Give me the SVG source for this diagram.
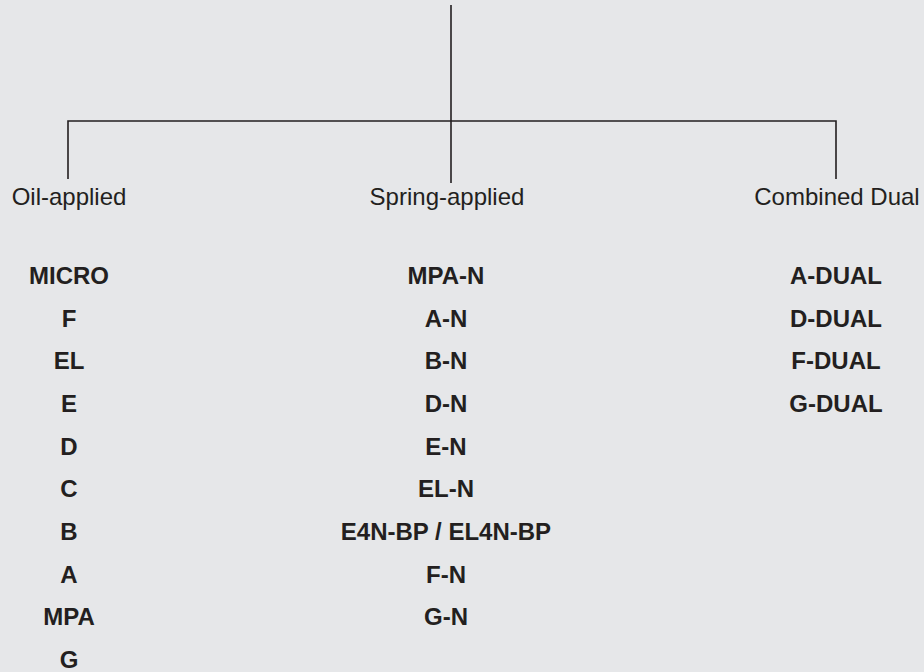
<svg xmlns="http://www.w3.org/2000/svg" width="924" height="672" viewBox="0 0 924 672">
<style>
.bg{fill:#e6e7e9}
.ln{stroke:#231f20;stroke-width:1.6;fill:none}
.hd{font-family:"Liberation Sans",Arial,sans-serif;font-size:24px;fill:#231f20;text-anchor:middle}
.it{font-family:"Liberation Sans",Arial,sans-serif;font-size:24px;font-weight:700;fill:#231f20;text-anchor:middle}
</style>
<rect class="bg" x="0" y="0" width="924" height="672"/>
<g id="connectors">
<line class="ln" x1="451" y1="5" x2="451" y2="183"/>
<polyline class="ln" points="68,179 68,121 836,121 836,179"/>
</g>
<g id="oil-applied">
<text class="hd" x="69" y="205">Oil-applied</text>
<text class="it" x="69" y="284">MICRO</text>
<text class="it" x="69" y="327">F</text>
<text class="it" x="69" y="369">EL</text>
<text class="it" x="69" y="412">E</text>
<text class="it" x="69" y="455">D</text>
<text class="it" x="69" y="497">C</text>
<text class="it" x="69" y="540">B</text>
<text class="it" x="69" y="583">A</text>
<text class="it" x="69" y="625">MPA</text>
<text class="it" x="69" y="668">G</text>
</g>
<g id="spring-applied">
<text class="hd" x="447" y="205">Spring-applied</text>
<text class="it" x="446" y="284">MPA-N</text>
<text class="it" x="446" y="327">A-N</text>
<text class="it" x="446" y="369">B-N</text>
<text class="it" x="446" y="412">D-N</text>
<text class="it" x="446" y="455">E-N</text>
<text class="it" x="446" y="497">EL-N</text>
<text class="it" x="446" y="540">E4N-BP / EL4N-BP</text>
<text class="it" x="446" y="583">F-N</text>
<text class="it" x="446" y="625">G-N</text>
</g>
<g id="combined-dual">
<text class="hd" x="837" y="205">Combined Dual</text>
<text class="it" x="836" y="284">A-DUAL</text>
<text class="it" x="836" y="327">D-DUAL</text>
<text class="it" x="836" y="369">F-DUAL</text>
<text class="it" x="836" y="412">G-DUAL</text>
</g>
</svg>
